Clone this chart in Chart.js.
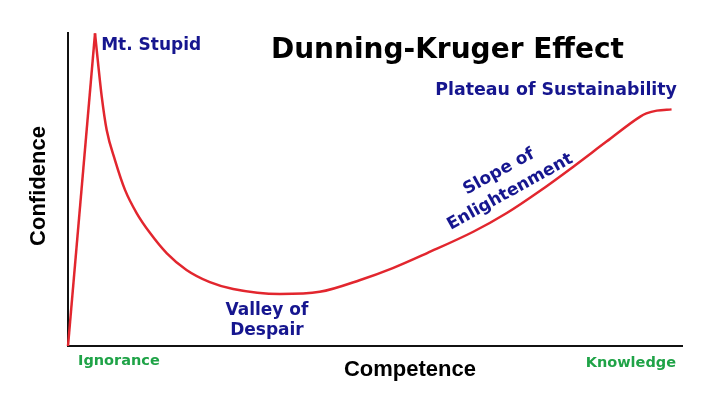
<!DOCTYPE html>
<html>
<head>
<meta charset="utf-8">
<script src="https://cdn.jsdelivr.net/npm/chart.js@4.4.1/dist/chart.umd.min.js"></script>
<style>
  html, body { margin: 0; padding: 0; background: #fff; }
  #wrap { width: 722px; height: 403px; }
</style>
</head>
<body>
<div id="wrap"><canvas id="dk"></canvas></div>
<script>
// curve (competence 0..100, confidence 0..100)
var competence = [0, 4.4, 4.9, 5.5, 6.3, 7.65, 9.3, 11.2, 13.4, 16.1, 19.3, 23.1, 26.9, 34.5, 41.0, 47.6, 52.9, 58.5, 66.0, 71.4, 76.9, 82.3, 87.7, 93.2, 94.2, 95.9, 98.3];
var confidence = [0, 99.9, 90.3, 79.6, 69.0, 59.4, 49.8, 42.4, 36.0, 29.6, 24.3, 20.4, 18.2, 16.6, 17.3, 21.1, 24.9, 29.7, 36.5, 42.4, 49.6, 57.3, 65.3, 73.3, 74.3, 75.2, 75.6];

var chartTitle = "Dunning-Kruger Effect";
var xTitle = "Competence";
var yTitle = "Confidence";
var xEndLabels = ["Ignorance", "Knowledge"];
var stageLabels = ["Mt. Stupid", "Valley of\nDespair", "Slope of\nEnlightenment", "Plateau of Sustainability"];

var points = competence.map(function (c, i) { return {x: c, y: confidence[i]}; });
// straight climb up to the peak, then the smooth curve
var climb = points.slice(0, 2);
var after = points.slice(1);

var RED = "#e2262e";
var BLUE = "#16168f";
var GREEN = "#1fa347";
var BOLD_V = "bold {s}px 'DejaVu Sans'";
var BOLD_A = "bold {s}px 'Liberation Sans'";
function font(tpl, s) { return tpl.replace("{s}", s); }

var textPlugin = {
    id: "dkText",
    afterDraw: function (chart) {
        var ctx = chart.ctx;
        var xs = chart.scales.x;
        ctx.save();

        // title
        ctx.fillStyle = "#000";
        ctx.font = font(BOLD_V, 28);
        ctx.textAlign = "center";
        ctx.textBaseline = "alphabetic";
        ctx.fillText(chartTitle, xs.getPixelForValue(61.8), 58);

        // stage labels
        ctx.fillStyle = BLUE;
        ctx.font = font(BOLD_V, 17);
        ctx.textAlign = "left";
        ctx.fillText(stageLabels[0], xs.getPixelForValue(5.4), 50);

        ctx.textAlign = "center";
        var v = stageLabels[1].split("\n");
        ctx.fillText(v[0], xs.getPixelForValue(32.4), 315);
        ctx.fillText(v[1], xs.getPixelForValue(32.4), 335);

        ctx.font = font(BOLD_V, 17.4);
        ctx.fillText(stageLabels[3], xs.getPixelForValue(79.5), 95);

        ctx.font = font(BOLD_V, 17);
        var s = stageLabels[2].split("\n");
        ctx.save();
        ctx.translate(xs.getPixelForValue(71.1), 182);
        ctx.rotate(-29 * Math.PI / 180);
        ctx.textBaseline = "middle";
        ctx.fillText(s[0], 0, -11.5);
        ctx.fillText(s[1], 0, 11.5);
        ctx.restore();

        // ends of the competence axis
        ctx.fillStyle = GREEN;
        ctx.font = font(BOLD_V, 14.5);
        ctx.textAlign = "left";
        ctx.fillText(xEndLabels[0], 78, 365);
        ctx.textAlign = "right";
        ctx.fillText(xEndLabels[1], 676, 367);

        // axis titles
        ctx.fillStyle = "#000";
        ctx.font = font(BOLD_A, 22);
        ctx.textAlign = "center";
        ctx.fillText(xTitle, 410, 376);
        ctx.save();
        ctx.translate(45, 186);
        ctx.rotate(-Math.PI / 2);
        ctx.fillText(yTitle, 0, 0);
        ctx.restore();

        ctx.restore();
    }
};

new Chart(document.getElementById("dk").getContext("2d"), {
    type: "line",
    data: {
        datasets: [{
            data: climb,
            borderColor: RED,
            borderWidth: 2.5,
            pointRadius: 0,
            tension: 0,
            fill: false,
            clip: false
        }, {
            data: after,
            borderColor: RED,
            borderWidth: 2.5,
            pointRadius: 0,
            cubicInterpolationMode: "monotone",
            fill: false,
            clip: false
        }]
    },
    options: {
        responsive: true,
        maintainAspectRatio: false,
        animation: false,
        layout: { padding: { left: 68, right: 40, top: 33, bottom: 57 } },
        plugins: { legend: { display: false }, tooltip: { enabled: false } },
        scales: {
            x: {
                type: "linear", min: 0, max: 100,
                grid: { display: false, drawTicks: false },
                ticks: { display: false },
                border: { display: true, color: "#111", width: 2 }
            },
            y: {
                type: "linear", min: 0, max: 100,
                grid: { display: false, drawTicks: false },
                ticks: { display: false },
                border: { display: true, color: "#111", width: 2 }
            }
        }
    },
    plugins: [textPlugin]
});
</script>
</body>
</html>
